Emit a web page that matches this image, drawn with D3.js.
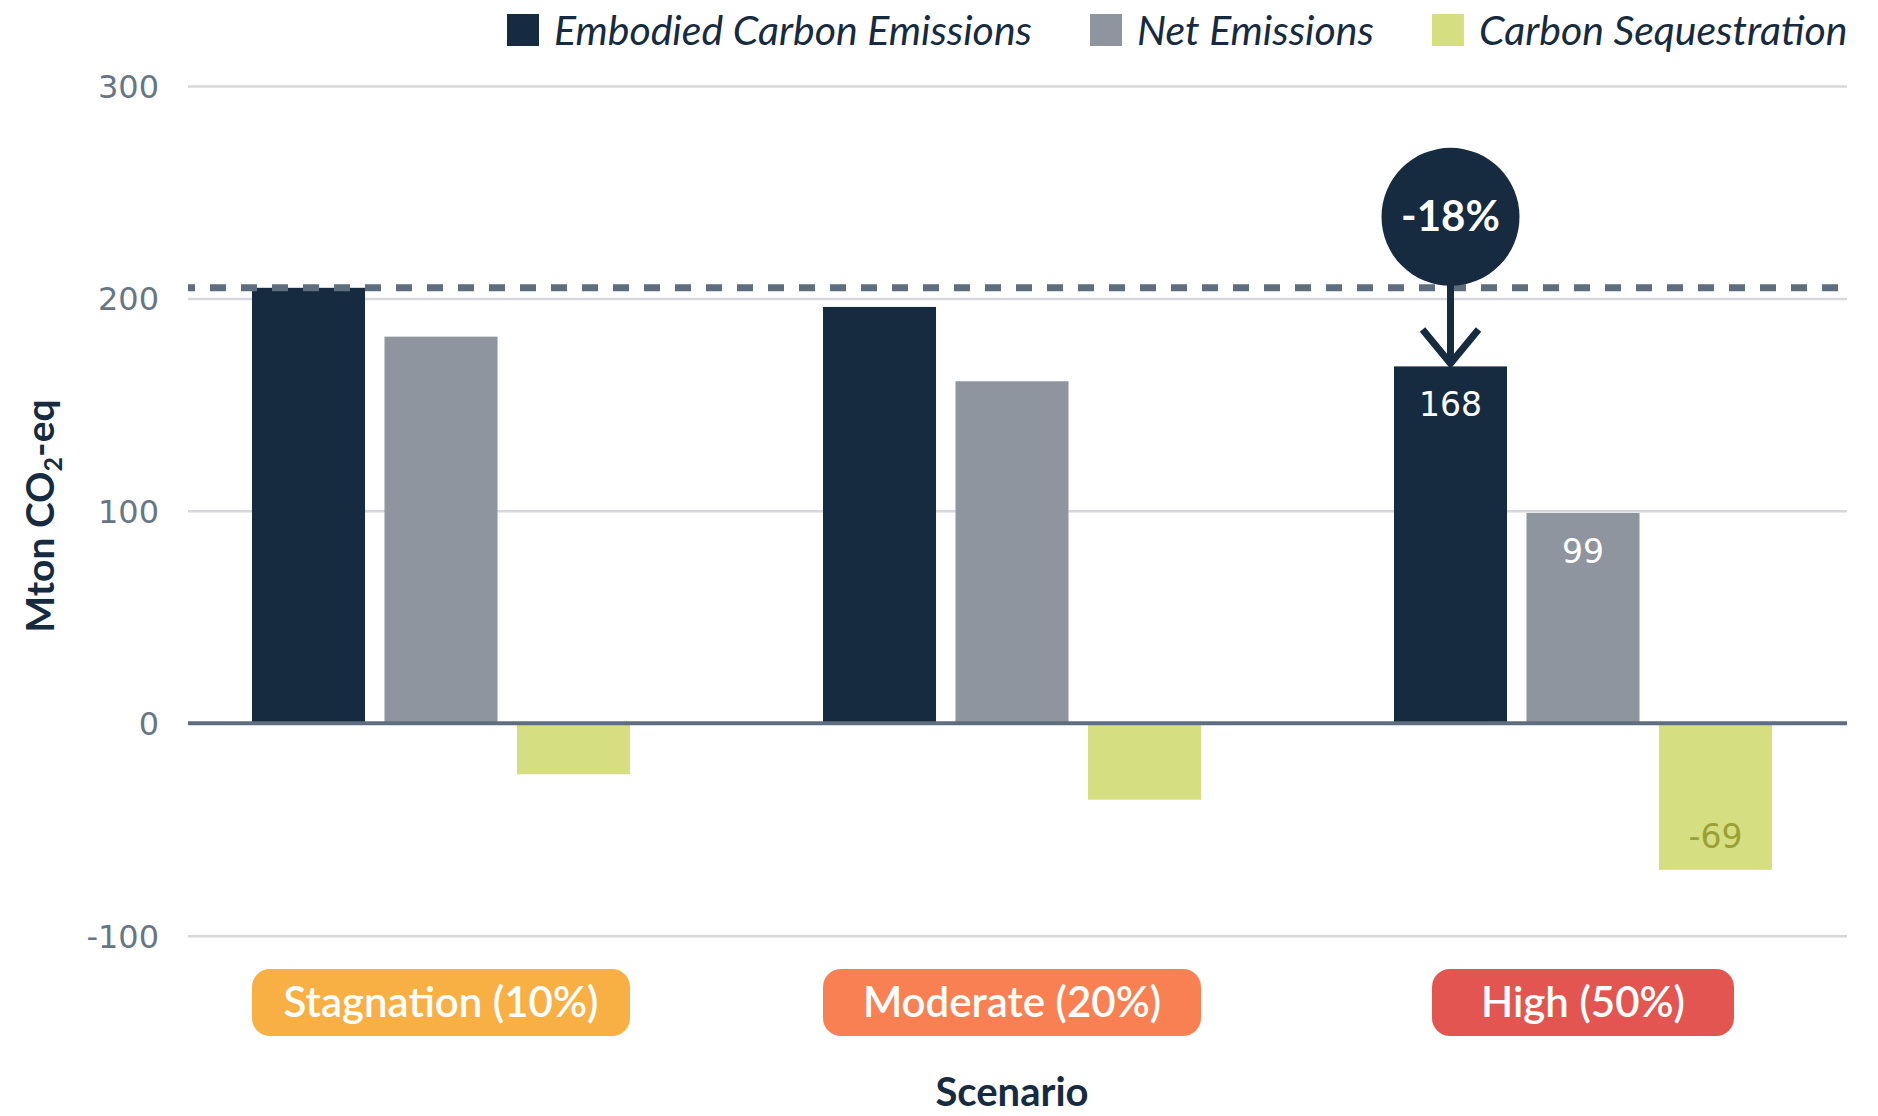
<!DOCTYPE html>
<html>
<head>
<meta charset="utf-8">
<script src="https://cdn.jsdelivr.net/npm/d3@7"></script>
<style>
  body { margin: 0; background: #fff; }
  svg { display: block; }
</style>
</head>
<body>
<svg></svg>
<script>
  const scenarios = ['Stagnation (10%)', 'Moderate (20%)', 'High (50%)'];
  const series = ['Embodied Carbon Emissions', 'Net Emissions', 'Carbon Sequestration'];

  const embodied = [205, 196, 168];
  const net = [182, 161, 99];
  const sequestration = [-24, -36, -69];

  const yTicks = [-100, 0, 100, 200, 300];

  // reference line = embodied emissions of the stagnation scenario
  const referenceValue = embodied[0];
  const labelledScenario = 'High (50%)';

  const values = [embodied, net, sequestration];
  const colors = ['#162b40', '#8e959f', '#d5df82'];
  const labelColors = ['#ffffff', '#ffffff', '#9ba035'];
  const badgeColors = ['#f8b045', '#f98053', '#e35550'];

  const [width, height] = [1878, 1116];
  const plotLeft = 188, plotRight = 1847;

  const svg = d3.select('svg')
      .attr('width', width)
      .attr('height', height);

  const x0 = d3.scaleBand()
      .domain(scenarios)
      .range([155.5, 1868.5])
      .paddingInner(0.338)
      .paddingOuter(0.169);

  const x1 = d3.scaleBand()
      .domain(series)
      .range([0, x0.bandwidth()])
      .paddingInner(0.147);

  const y = d3.scaleLinear()
      .domain([-100, 300])
      .range([935.7, 86]);

  const rows = scenarios.map((s, i) => ({
    scenario: s,
    bars: series.map((k, j) => ({ scenario: s, key: k, j, value: values[j][i] }))
  }));

  // grid + tick labels
  const yAxis = svg.append('g')
      .attr('transform', `translate(${plotLeft},0)`)
      .call(d3.axisLeft(y)
        .tickValues(yTicks)
        .tickFormat(d => String(d))
        .tickSize(-(plotRight - plotLeft))
        .tickPadding(29));

  yAxis.select('.domain').remove();
  yAxis.selectAll('.tick line')
      .attr('stroke', d => d === 0 ? 'none' : '#d7d8de')
      .attr('stroke-width', 2.5);
  yAxis.selectAll('.tick text')
      .attr('fill', '#677585')
      .attr('font-family', 'DejaVu Sans')
      .attr('font-size', 32)
      .attr('dy', '0.36em');

  // bars
  const groups = svg.append('g')
    .selectAll('g')
    .data(rows)
    .join('g')
      .attr('transform', d => `translate(${x0(d.scenario)},0)`);

  groups.selectAll('rect')
    .data(d => d.bars)
    .join('rect')
      .attr('x', d => x1(d.key))
      .attr('y', d => y(Math.max(0, d.value)))
      .attr('width', x1.bandwidth())
      .attr('height', d => Math.abs(y(d.value) - y(0)))
      .attr('fill', d => colors[d.j]);

  groups.selectAll('text.value')
    .data(d => d.bars.filter(b => b.scenario === labelledScenario))
    .join('text')
      .attr('class', 'value')
      .attr('x', d => x1(d.key) + x1.bandwidth() / 2)
      .attr('y', d => d.value >= 0 ? y(d.value) + 50 : y(d.value) - 22)
      .attr('text-anchor', 'middle')
      .attr('font-family', 'DejaVu Sans')
      .attr('font-size', 33)
      .attr('fill', d => labelColors[d.j])
      .text(d => d.value);

  // zero line
  svg.append('line')
      .attr('x1', plotLeft).attr('x2', plotRight)
      .attr('y1', y(0)).attr('y2', y(0))
      .attr('stroke', '#5f6e7e')
      .attr('stroke-width', 4);

  // dashed reference line
  svg.append('line')
      .attr('x1', plotLeft).attr('x2', plotRight)
      .attr('y1', y(referenceValue)).attr('y2', y(referenceValue))
      .attr('stroke', '#5f6e7e')
      .attr('stroke-width', 7)
      .attr('stroke-dasharray', '16 15')
      .attr('stroke-dashoffset', 9);

  // change bubble + arrow
  const target = embodied[scenarios.indexOf(labelledScenario)];
  const change = Math.round((target / referenceValue - 1) * 100);
  const cx = x0(labelledScenario) + x1(series[0]) + x1.bandwidth() / 2;
  const cy = y(referenceValue) - 71;
  const r = 69;
  const tipY = y(target) - 3;
  const dark = '#162b40';

  svg.append('line')
      .attr('x1', cx).attr('x2', cx)
      .attr('y1', cy + r - 2).attr('y2', tipY)
      .attr('stroke', dark).attr('stroke-width', 7);

  svg.append('path')
      .attr('d', `M${cx - 28},${tipY - 34}L${cx},${tipY}L${cx + 28},${tipY - 34}`)
      .attr('fill', 'none')
      .attr('stroke', dark)
      .attr('stroke-width', 7);

  svg.append('circle')
      .attr('cx', cx).attr('cy', cy).attr('r', r)
      .attr('fill', dark);

  svg.append('text')
      .attr('x', cx).attr('y', cy + 14)
      .attr('text-anchor', 'middle')
      .attr('font-family', 'Lato')
      .attr('font-weight', 700)
      .attr('font-size', 42)
      .attr('fill', '#fff')
      .text(`${change}%`);

  // scenario badges
  const badges = svg.append('g')
    .selectAll('g')
    .data(scenarios)
    .join('g');

  badges.append('rect')
      .attr('x', (d, i) => i === 2 ? x0(d) + x0.bandwidth() / 2 - 151 : x0(d))
      .attr('y', 969)
      .attr('width', (d, i) => i === 2 ? 302 : x0.bandwidth())
      .attr('height', 67)
      .attr('rx', 18)
      .attr('fill', (d, i) => badgeColors[i]);

  badges.append('text')
      .attr('x', d => x0(d) + x0.bandwidth() / 2)
      .attr('y', 1017)
      .attr('text-anchor', 'middle')
      .attr('font-family', 'Lato')
      .attr('font-weight', 600)
      .attr('font-size', 42)
      .attr('fill', '#fff')
      .text(d => d);

  // axis titles
  svg.append('text')
      .attr('x', x0(scenarios[1]) + x0.bandwidth() / 2)
      .attr('y', 1106)
      .attr('text-anchor', 'middle')
      .attr('font-family', 'Lato')
      .attr('font-weight', 700)
      .attr('font-size', 40)
      .attr('fill', dark)
      .text('Scenario');

  const yTitle = svg.append('text')
      .attr('transform', 'translate(54,516) rotate(-90)')
      .attr('text-anchor', 'middle')
      .attr('font-family', 'Lato')
      .attr('font-weight', 700)
      .attr('font-size', 39)
      .attr('fill', dark);
  yTitle.append('tspan').text('Mton CO');
  yTitle.append('tspan').attr('dy', 8).attr('font-size', 25).text('2');
  yTitle.append('tspan').attr('dy', -8).text('-eq');

  // legend
  const legend = svg.append('g');
  let lx = 507;
  series.forEach((s, i) => {
    legend.append('rect')
        .attr('x', lx).attr('y', 14)
        .attr('width', 32).attr('height', 32)
        .attr('fill', colors[i]);
    const t = legend.append('text')
        .attr('x', lx + 47).attr('y', 45)
        .attr('font-family', 'Lato')
        .attr('font-style', 'italic')
        .attr('font-size', 41)
        .attr('fill', dark)
        .text(s);
    lx += 47 + t.node().getComputedTextLength() + 58;
  });
</script>
</body>
</html>
